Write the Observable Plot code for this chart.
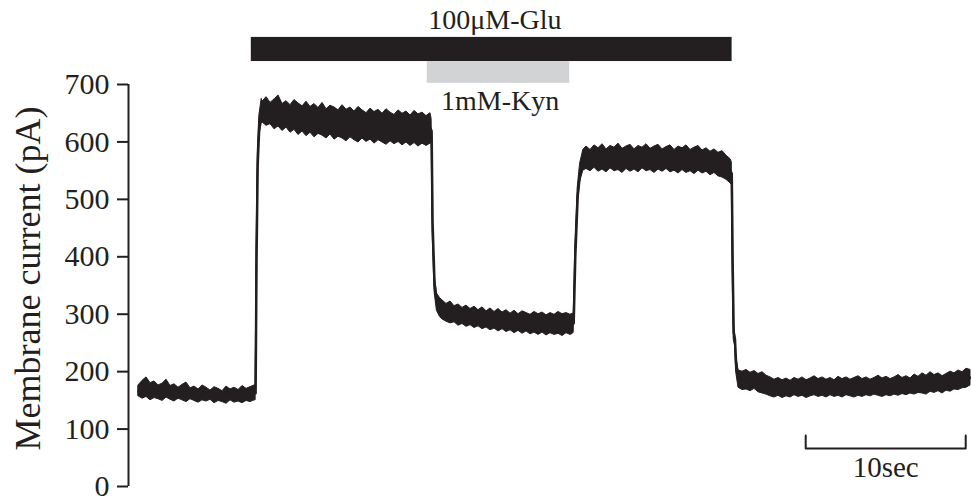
<!DOCTYPE html>
<html>
<head>
<meta charset="utf-8">
<script src="https://cdn.jsdelivr.net/npm/d3@7"></script>
<script src="https://cdn.jsdelivr.net/npm/@observablehq/plot@0.6"></script>
<style>
  html, body { margin: 0; padding: 0; background: #fff; }
</style>
</head>
<body>
<div id="chart"></div>
<script>
// ---- Data ----
// each row: [time (s), upper envelope (pA), lower envelope (pA)] of the noisy current trace
const baseline = [
  [0,176,157],[0.25,184,153],[0.5,190,156],[0.75,180,150],[1,183,154],[1.25,176,152],[1.5,179,149],[1.75,186,155],
  [2,175,151],[2.25,178,148],[2.5,172,153],[2.75,177,150],[3,181,147],[3.25,171,152],[3.5,174,149],[3.75,169,146],
  [4,176,150],[4.25,172,148],[4.5,167,151],[4.75,173,145],[5,170,149],[5.25,166,147],[5.5,174,144],[5.75,169,150],
  [6,172,146],[6.25,168,148],[6.5,175,145],[6.75,170,149],[7,173,147],[7.25,176,150]
];
const gluOnset = [
  [7.32,175,150],[7.38,420,380],[7.45,580,540],[7.55,645,610],[7.7,675,632]
];
const glu = [
  [7.75,670,634],[8,678,628],[8.25,668,631],[8.5,674,622],[8.75,681,627],[9,666,619],[9.25,671,625],[9.5,664,616],
  [9.75,673,621],[10,667,612],[10.25,662,618],[10.5,670,610],[10.75,661,616],[11,666,608],[11.25,659,614],[11.5,668,611],
  [11.75,657,606],[12,663,613],[12.25,660,604],[12.5,655,609],[12.75,664,606],[13,656,601],[13.25,660,608],[13.5,653,603],
  [13.75,661,599],[14,655,606],[14.25,650,600],[14.5,658,604],[14.75,652,597],[15,656,603],[15.25,649,599],[15.5,657,595],
  [15.75,651,601],[16,647,596],[16.25,655,600],[16.5,649,594],[16.75,653,599],[17,646,593],[17.25,654,598],[17.5,648,592],
  [17.75,651,597],[18,645,593],[18.25,650,597]
];
const kynOnset = [
  [18.32,640,598],[18.38,480,440],[18.5,370,340],[18.65,336,306],[18.85,328,295]
];
const gluKyn = [
  [19,324,291],[19.25,318,287],[19.5,322,284],[19.75,314,286],[20,317,280],[20.25,311,283],[20.5,315,278],[20.75,309,281],
  [21,313,276],[21.25,307,279],[21.5,312,274],[21.75,305,277],[22,310,272],[22.25,304,275],[22.5,309,270],[22.75,303,274],
  [23,307,269],[23.25,301,272],[23.5,306,267],[23.75,300,271],[24,305,266],[24.25,302,270],[24.5,299,265],[24.75,304,268],
  [25,300,264],[25.25,303,268],[25.5,298,263],[25.75,302,267],[26,299,264],[26.25,304,266],[26.5,300,262],[26.75,302,267],
  [27,299,264],[27.15,301,266]
];
const kynOffset = [
  [27.2,300,268],[27.3,420,380],[27.45,520,490],[27.6,562,530],[27.8,586,550]
];
const glu2 = [
  [28,592,553],[28.25,586,549],[28.5,594,555],[28.75,589,548],[29,596,552],[29.25,587,547],[29.5,593,554],[29.75,590,549],
  [30,597,551],[30.25,588,546],[30.5,592,553],[30.75,595,548],[31,587,552],[31.25,593,547],[31.5,590,554],[31.75,596,549],
  [32,588,551],[32.25,592,546],[32.5,595,552],[32.75,587,548],[33,591,553],[33.25,594,547],[33.5,586,550],[33.75,592,545],
  [34,589,551],[34.25,594,546],[34.5,586,549],[34.75,590,544],[35,593,550],[35.25,585,545],[35.5,589,548],[35.75,583,542],
  [36,587,546],[36.25,581,540],[36.5,584,538],[36.75,576,534],[37,570,528]
];
const gluOffset = [
  [37.08,565,525],[37.14,400,360],[37.2,282,256],[37.28,268,245],[37.35,230,200],[37.5,202,172],[37.75,200,168]
];
const wash = [
  [38,203,169],[38.25,198,166],[38.5,201,170],[38.75,196,164],[39,199,162],[39.25,193,160],[39.5,190,157],[39.75,186,155],
  [40,189,158],[40.25,185,154],[40.5,188,157],[40.75,184,155],[41,189,159],[41.25,186,156],[41.5,190,158],[41.75,185,154],
  [42,188,157],[42.25,192,159],[42.5,187,156],[42.75,190,158],[43,186,155],[43.25,189,159],[43.5,185,156],[43.75,191,158],
  [44,187,155],[44.25,190,159],[44.5,186,157],[44.75,189,155],[45,192,158],[45.25,187,156],[45.5,190,159],[45.75,186,157],
  [46,189,160],[46.25,193,158],[46.5,188,156],[46.75,191,159],[47,187,157],[47.25,190,160],[47.5,194,158],[47.75,189,161],
  [48,192,159],[48.25,188,162],[48.5,195,160],[48.75,191,163],[49,197,162],[49.25,193,160],[49.5,199,165],[49.75,194,163],
  [50,197,166],[50.25,192,162],[50.5,196,167],[50.75,200,165],[51,197,169],[51.25,202,168],[51.5,199,171],[51.75,205,172],
  [52,203,176]
];

// drug application periods (s)
const drugNames = ["100\u03bcM-Glu", "1mM-Kyn"];
const drugStart = [7.05, 18.05];
const drugEnd = [37.1, 26.95];

const yTicks = [0, 100, 200, 300, 400, 500, 600, 700];
const yLabel = "Membrane current (pA)";
const scaleBarStart = 41.7;
const scaleBarLength = 10; // seconds
const scaleBarLabel = "10sec";

// ---- Build table ----
const trace = [...baseline, ...gluOnset, ...glu, ...kynOnset, ...gluKyn, ...kynOffset, ...glu2, ...gluOffset, ...wash]
  .map(([t, hi, lo]) => ({t, hi, lo}));

const ink = "#231f20";
const font = "Liberation Serif, Times New Roman, serif";

const chart = Plot.plot({
  width: 971,
  height: 497,
  marginLeft: 128,
  marginRight: 1,
  marginTop: 84,
  marginBottom: 11,
  style: {fontFamily: font, background: "#fff", color: ink, overflow: "visible"},
  x: {domain: [-0.625, 52], axis: null},
  y: {domain: [0, 700], axis: null},
  marks: [
    // y axis
    Plot.ruleX([-0.625], {y1: 0, y2: 700, stroke: ink, strokeWidth: 2}),
    Plot.axisY({ticks: yTicks, tickSize: 11, tickPadding: 8, fontSize: 30, label: null, stroke: ink, strokeWidth: 2, fill: ink}),
    Plot.text([yLabel], {frameAnchor: "left", textAnchor: "middle", dx: -100, dy: -7, rotate: -90, fontSize: 36, fill: ink}),

    // current trace (noise band + core line)
    Plot.areaY(trace, {x: "t", y1: "lo", y2: "hi", fill: ink, stroke: ink, strokeWidth: 1}),
    Plot.line(trace, {x: "t", y: d => (d.lo + d.hi) / 2, stroke: ink, strokeWidth: 2.5}),

    // drug bars
    Plot.rect([0], {x1: drugStart[0], x2: drugEnd[0], y1: 740, y2: 782, fill: ink}),
    Plot.rect([1], {x1: drugStart[1], x2: drugEnd[1], y1: 702, y2: 740, fill: "#d1d3d4"}),
    Plot.text([drugNames[0]], {x: (drugStart[0] + drugEnd[0]) / 2 + 0.2, y: 797, textAnchor: "middle", lineAnchor: "bottom", fontSize: 28, fill: ink}),
    Plot.text([drugNames[1]], {x: (drugStart[1] + drugEnd[1]) / 2 + 0.1, y: 655, textAnchor: "middle", lineAnchor: "bottom", fontSize: 28, fill: ink}),

    // time scale bar
    Plot.line([[scaleBarStart, 89], [scaleBarStart, 66], [scaleBarStart + scaleBarLength, 66], [scaleBarStart + scaleBarLength, 89]],
      {stroke: ink, strokeWidth: 2}),
    Plot.text([scaleBarLabel], {x: scaleBarStart + scaleBarLength / 2, y: 16, textAnchor: "middle", lineAnchor: "bottom", fontSize: 29, fill: ink})
  ]
});

document.getElementById("chart").appendChild(chart);
</script>
</body>
</html>
